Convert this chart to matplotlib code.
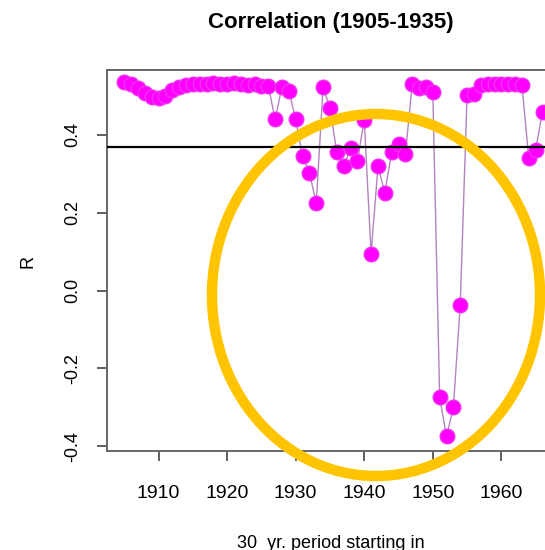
from matplotlib import pyplot
from matplotlib.patches import Ellipse

# start year of each 30 yr period
years = list(range(1905, 1967))

# correlation R for each start year
r_values = [0.535, 0.530, 0.522, 0.507, 0.497, 0.495, 0.500, 0.515, 0.524, 0.528,
            0.530, 0.532, 0.530, 0.533, 0.532, 0.530, 0.533, 0.530, 0.528, 0.530,
            0.525, 0.527, 0.440, 0.524, 0.514, 0.440, 0.346, 0.303, 0.225, 0.523,
            0.469, 0.355, 0.319, 0.366, 0.332, 0.439, 0.094, 0.319, 0.252, 0.355,
            0.376, 0.351, 0.531, 0.520, 0.524, 0.510, -0.274, -0.375, -0.300, -0.037,
            0.503, 0.505, 0.528, 0.530, 0.530, 0.531, 0.530, 0.530, 0.528, 0.340,
            0.362, 0.460]

ref_line = 0.37
x_ticks = [1910, 1920, 1930, 1940, 1950, 1960]
y_ticks = [-0.4, -0.2, 0.0, 0.2, 0.4]

pyplot.rcParams['font.family'] = ['Liberation Sans', 'DejaVu Sans']

W, H = 545, 550
fig = pyplot.figure(figsize=(W / 100, H / 100), dpi=100)

# axes box runs past the right edge of the picture
ax = fig.add_axes([107 / W, 1 - 450.5 / H, (573.5 - 107) / W, (450.5 - 70) / H])
ax.set_xlim(1902.48, 1970.52)
ax.set_ylim(-0.411, 0.567)

ax.plot(years, r_values, color='#b384c0', linewidth=1.0, zorder=2)
ax.plot(years, r_values, linestyle='none', marker='o', markersize=10.5,
        markerfacecolor='#ff00ff', markeredgecolor='#f030f0', zorder=3)
ax.axhline(ref_line, color='black', linewidth=1.6, zorder=4)

for side in ['left', 'bottom', 'top', 'right']:
    ax.spines[side].set_color('#666666')
    ax.spines[side].set_linewidth(1.4)

ax.set_xticks(x_ticks)
ax.set_yticks(y_ticks)
ax.set_yticklabels(['%.1f' % v for v in y_ticks], rotation=90, va='center')
ax.tick_params(axis='both', direction='out', length=7.5, width=1.2, color='#444444')
ax.tick_params(axis='x', labelsize=14, pad=17)
ax.tick_params(axis='y', labelsize=13, pad=11)

ax.set_title('Correlation (1905-1935)', fontsize=16, fontweight='bold', pad=30,
             x=(331 - 107) / (573.5 - 107))
fig.text(331 / W, 1 - 543 / H, '30  yr. period starting in', fontsize=13,
         ha='center', va='center')
fig.text(27.5 / W, 1 - 262 / H, 'R', fontsize=13, rotation=90, ha='center', va='center')

# yellow ring drawn over the chart
ring = Ellipse((376 / W, 1 - 295 / H), 328 / W, 362 / H, transform=fig.transFigure,
               fill=False, edgecolor='#ffc400', linewidth=7.5, zorder=10)
fig.add_artist(ring)

fig.savefig('out.png', dpi=100)
